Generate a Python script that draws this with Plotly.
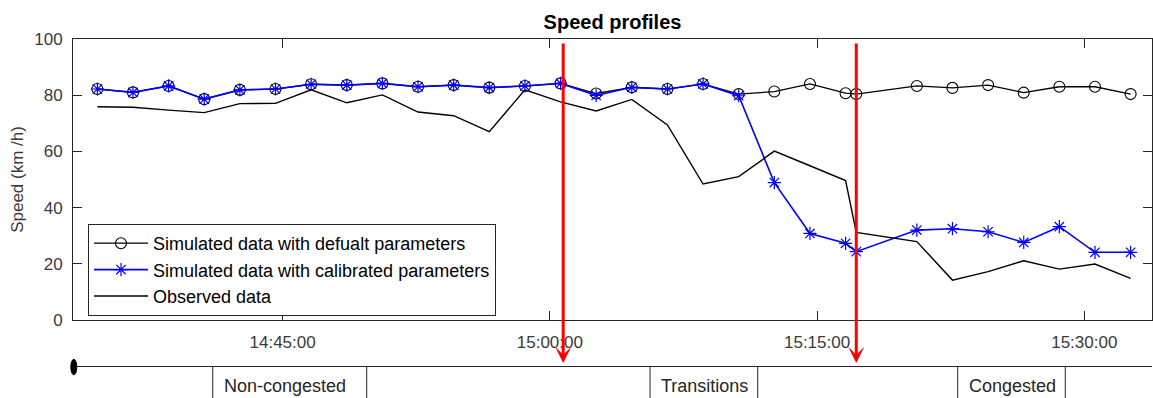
import plotly.graph_objects as go

# Sample times (HH:MM:SS) of the speed records
times = [
    "14:34:36", "14:36:36", "14:38:36", "14:40:36", "14:42:36", "14:44:36",
    "14:46:36", "14:48:36", "14:50:36", "14:52:36", "14:54:36", "14:56:36",
    "14:58:36", "15:00:36", "15:02:36", "15:04:36", "15:06:36", "15:08:36",
    "15:10:36", "15:12:36", "15:14:36", "15:16:36", "15:17:12", "15:20:36",
    "15:22:36", "15:24:36", "15:26:36", "15:28:36", "15:30:36", "15:32:36",
]

# Speeds in km/h
default_speed = [
    82.2, 81.0, 83.3, 78.6, 81.9, 82.2, 83.9, 83.6, 84.2, 83.0, 83.6, 82.7,
    83.3, 84.2, 80.6, 82.8, 82.2, 84.0, 80.4, 81.3, 84.0, 80.7, 80.4, 83.3,
    82.6, 83.6, 80.9, 83.0, 83.0, 80.4,
]
calibrated_speed = [
    82.2, 81.0, 83.3, 78.6, 81.9, 82.2, 83.9, 83.6, 84.2, 83.0, 83.6, 82.7,
    83.3, 84.2, 79.9, 82.8, 82.2, 84.0, 79.8, 48.9, 30.8, 27.3, 24.3, 32.0,
    32.5, 31.4, 27.6, 33.2, 24.1, 24.1,
]
observed_speed = [
    75.9, 75.7, 74.7, 73.8, 77.0, 77.1, 81.9, 77.3, 80.1, 74.0, 72.7, 67.0,
    81.9, 77.6, 74.4, 78.5, 69.4, 48.4, 51.0, 60.1, 54.9, 49.6, 31.2, 27.9,
    14.2, 17.2, 21.1, 18.1, 19.9, 14.8,
]

# Regime change instants and traffic phase labels
change_times = ["15:00:45", "15:17:12"]
phase_labels = ["Non-congested", "Transitions", "Congested"]

x_ticks = ["14:45:00", "15:00:00", "15:15:00", "15:30:00"]
y_ticks = [0, 20, 40, 60, 80, 100]

DAY = "2016-05-10 "


def ts(t):
    return DAY + t


x = [ts(t) for t in times]
FONT = "Liberation Sans, Arial, Helvetica, sans-serif"
AXIS_COLOR = "#262626"

fig = go.Figure()
fig.add_trace(go.Scatter(
    x=x, y=default_speed, mode="lines+markers",
    name="Simulated data with defualt parameters",
    line=dict(color="black", width=1.3),
    marker=dict(symbol="circle-open", size=11, color="black",
                line=dict(width=1.1, color="black")),
))
fig.add_trace(go.Scatter(
    x=x, y=calibrated_speed, mode="lines+markers",
    name="Simulated data with calibrated parameters",
    line=dict(color="#0000FF", width=1.6),
    marker=dict(symbol="asterisk-open", size=11, color="#0000FF",
                line=dict(width=1.2, color="#0000FF")),
))
fig.add_trace(go.Scatter(
    x=x, y=observed_speed, mode="lines",
    name="Observed data",
    line=dict(color="black", width=1.4),
))

axis_common = dict(
    showline=True, linecolor=AXIS_COLOR, linewidth=1, mirror="ticks",
    ticks="inside", ticklen=9, tickwidth=1, tickcolor=AXIS_COLOR,
    showgrid=False, zeroline=False, automargin=False,
    tickfont=dict(family=FONT, size=17, color="#3a3a3a"),
)

fig.update_layout(
    width=1153, height=398,
    margin=dict(l=73, r=1, t=39, b=78, pad=0),
    paper_bgcolor="white", plot_bgcolor="white",
    font=dict(family=FONT, color="black"),
    title=dict(text="<b>Speed profiles</b>", x=0.5, xref="paper",
               xanchor="center", y=1 - 22 / 398, yanchor="middle",
               font=dict(family=FONT, size=20, color="black")),
    xaxis=dict(type="date", range=[ts("14:33:14"), ts("15:33:48")],
               tickvals=[ts(t) for t in x_ticks], tickformat="%H:%M:%S",
               ticklabelstandoff=7, **axis_common),
    yaxis=dict(range=[0, 100], tickvals=y_ticks, ticklabelstandoff=6,
               title=dict(text="Speed (km /h)", standoff=6,
                          font=dict(family=FONT, size=17, color="#3a3a3a")),
               **axis_common),
    legend=dict(x=0.0139, y=0.3416, xanchor="left", yanchor="top",
                bgcolor="white", bordercolor=AXIS_COLOR, borderwidth=1,
                font=dict(family=FONT, size=18, color="black"),
                itemwidth=54, tracegroupgap=0),
    showlegend=True,
)

# Red arrows marking the regime changes, running down into the phase strip
for t in change_times:
    fig.add_annotation(
        x=ts(t), xref="x", y=-0.153, yref="paper", text="",
        showarrow=True, ax=0, ay=-321, arrowcolor="#FF0000",
        arrowwidth=3, arrowhead=3, arrowsize=0.9, standoff=0,
    )

# Phase strip below the time axis
strip_y = -0.1655
fig.add_shape(type="line", xref="paper", yref="paper",
              x0=0, x1=1, y0=strip_y, y1=strip_y,
              line=dict(color=AXIS_COLOR, width=1))
fig.add_shape(type="circle", xref="paper", yref="paper",
              x0=-0.002, x1=0.0035, y0=-0.14, y1=-0.195,
              fillcolor="black", line=dict(color="black", width=1))
phase_spans = [(0.1295, 0.2722), (0.5348, 0.6346), (0.8199, 0.9196)]
for (a, b), label in zip(phase_spans, phase_labels):
    for xv in (a, b):
        fig.add_shape(type="line", xref="paper", yref="paper",
                      x0=xv, x1=xv, y0=strip_y, y1=-0.30,
                      line=dict(color=AXIS_COLOR, width=1))
    fig.add_annotation(x=a + 0.0085, xref="paper", y=-0.235, yref="paper",
                       text=label, showarrow=False, xanchor="left",
                       yanchor="middle",
                       font=dict(family=FONT, size=18, color="#262626"))

fig.write_html("out.html")
